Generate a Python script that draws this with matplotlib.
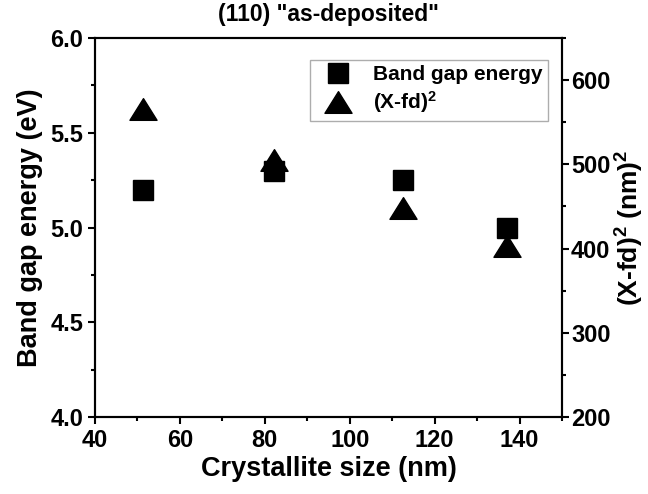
import matplotlib
matplotlib.use("Agg")
import matplotlib.pyplot as plt
from matplotlib.path import Path

plt.rcParams['font.family'] = ['Liberation Sans', 'DejaVu Sans']
plt.rcParams['font.weight'] = 'bold'
plt.rcParams['mathtext.fontset'] = 'custom'
plt.rcParams['mathtext.rm'] = 'Liberation Sans:bold'
plt.rcParams['mathtext.bf'] = 'Liberation Sans:bold'
plt.rcParams['mathtext.default'] = 'rm'

# Data
crystallite_size = [51.3, 82.2, 112.6, 137.0]
band_gap = [5.20, 5.30, 5.25, 5.00]
xfd_size = [51.3, 82.2, 112.6, 137.0]
xfd_sq = [566, 505, 448, 403]

x_ticks = [40, 60, 80, 100, 120, 140]
left_ticks = [4.0, 4.5, 5.0, 5.5, 6.0]
right_ticks = [200, 300, 400, 500, 600]

fig = plt.figure(figsize=(6.48, 4.94), dpi=100)
ax = fig.add_axes([95/648, 77/494, 467/648, 379/494])
ax2 = ax.twinx()

tri = Path([(-1, -0.8), (1, -0.8), (0, 0.8), (-1, -0.8)],
           [Path.MOVETO, Path.LINETO, Path.LINETO, Path.CLOSEPOLY])

h1, = ax.plot(crystallite_size, band_gap, linestyle='none', marker='s',
              markersize=14.5, color='black', label='Band gap energy')
h2, = ax2.plot(xfd_size, xfd_sq, linestyle='none', marker=tri,
               markersize=19.5, color='black', label='(X-fd)$^2$')

ax.set_xlim(40, 150)
ax.set_ylim(4.0, 6.0)
ax2.set_ylim(200, 650)
ax.set_xticks(x_ticks)
ax.set_xticks([50, 70, 90, 110, 130, 150], minor=True)
ax.set_yticks(left_ticks)
ax.set_yticks([4.25, 4.75, 5.25, 5.75], minor=True)
ax.set_yticklabels([f"{v:.1f}" for v in left_ticks])
ax2.set_yticks(right_ticks)
ax2.set_yticks([250, 350, 450, 550, 650], minor=True)

for a in (ax, ax2):
    for s in a.spines.values():
        s.set_linewidth(1.5)
    a.tick_params(which='major', direction='out', length=5, width=1.5, labelsize=17)
    a.tick_params(which='minor', direction='out', length=3, width=1.5)
ax.tick_params(which='both', top=False, right=False)
ax2.tick_params(which='both', top=False, left=False)
ax2.tick_params(axis='y', pad=1.5)

ax.set_xlabel('Crystallite size (nm)', fontsize=19.5, fontweight='bold', labelpad=3)
ax.set_ylabel('Band gap energy (eV)', fontsize=19.5, fontweight='bold', labelpad=5)
ax2.set_ylabel('(X-fd)$^2$ (nm)$^2$', fontsize=19, fontweight='bold', labelpad=2)
ax.set_title('(110) "as-deposited"', fontsize=16.5, fontweight='bold', pad=12)

leg = ax.legend([h1, h2], ['Band gap energy', '(X-fd)$^2$'], loc='upper right',
                bbox_to_anchor=((548-95)/467, (417-60)/379), borderaxespad=0,
                fontsize=15, frameon=True, fancybox=False, edgecolor='#999999',
                handletextpad=0.6, borderpad=0.25, labelspacing=0.25,
                handlelength=2.2)
leg.get_frame().set_linewidth(1.0)
leg.set_zorder(5)

fig.savefig('out.png', dpi=100)
